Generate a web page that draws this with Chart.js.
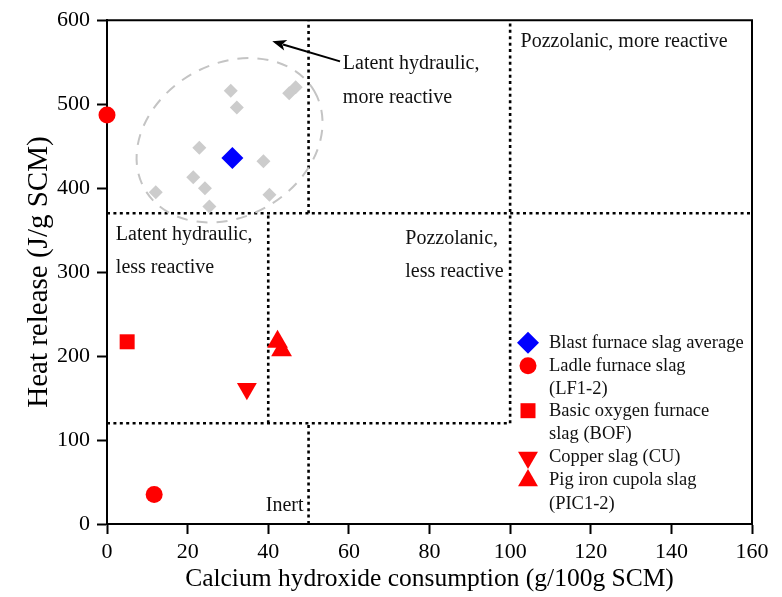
<!DOCTYPE html>
<html>
<head>
<meta charset="utf-8">
<script src="https://cdn.jsdelivr.net/npm/chart.js@4/dist/chart.umd.min.js"></script>
<style>
  html, body { margin: 0; padding: 0; background: #ffffff; }
  #wrap { width: 782px; height: 597px; }
</style>
</head>
<body>
<div id="wrap"><canvas id="chart" width="782" height="597"></canvas></div>
<script>
// Calcium hydroxide consumption (g/100g SCM) vs. heat release (J/g SCM)

// Axis ticks
const xTickValues = [0, 20, 40, 60, 80, 100, 120, 140, 160];
const yTickValues = [0, 100, 200, 300, 400, 500, 600];

// Blast furnace slags (individual samples)
const bfsX = [30.7, 32.2, 46.8, 45.2, 22.9, 38.8, 21.4, 24.3, 12.1, 40.3, 25.4];
const bfsY = [516, 496, 520, 513, 448, 432, 413, 400, 395, 392, 378];
// Blast furnace slag average
const bfsAvgX = [31.1];
const bfsAvgY = [436];
// Ladle furnace slag (LF1-2)
const lfX = [0, 11.7];
const lfY = [487, 35];
// Basic oxygen furnace slag (BOF)
const bofX = [5.0];
const bofY = [217];
// Copper slag (CU)
const cuX = [34.7];
const cuY = [161];
// Pig iron cupola slag (PIC1-2)
const picX = [42.3, 43.3];
const picY = [217, 207];

// Reactivity class limits
const chLimits = [40, 50, 100];     // g/100g SCM
const heatLimits = [120, 370];      // J/g SCM

const pts = (xs, ys) => xs.map((v, i) => ({ x: v, y: ys[i] }));

const SERIF = "'Liberation Serif', 'Times New Roman', serif";

// Dotted borders between the reactivity classes: [x1, y1, x2, y2]
const regionLines = [
  [0, heatLimits[1], 160, heatLimits[1]],
  [chLimits[1], heatLimits[1], chLimits[1], 600],
  [chLimits[2], heatLimits[0], chLimits[2], 600],
  [chLimits[0], heatLimits[0], chLimits[0], heatLimits[1]],
  [0, heatLimits[0], chLimits[2], heatLimits[0]],
  [chLimits[1], 0, chLimits[1], heatLimits[0]]
];

// Class labels: [text, x, y] (data coordinates of the left edge / middle)
const regionLabels = [
  ['Pozzolanic, more reactive', 102.6, 574],
  ['Latent hydraulic,', 58.5, 548],
  ['more reactive', 58.5, 508],
  ['Latent hydraulic,', 2.2, 345],
  ['less reactive', 2.2, 305],
  ['Pozzolanic,', 74.0, 340],
  ['less reactive', 74.0, 301],
  ['Inert', 39.4, 22]
];

const RED = '#ff0000';

function drawMarker(ctx, style, cx, cy, r, rotation) {
  ctx.beginPath();
  if (style === 'circle') {
    ctx.arc(cx, cy, r, 0, Math.PI * 2);
  } else if (style === 'rect') {
    const h = Math.SQRT1_2 * r;
    ctx.rect(cx - h, cy - h, 2 * h, 2 * h);
  } else if (style === 'rectRot') {
    ctx.moveTo(cx - r, cy); ctx.lineTo(cx, cy - r);
    ctx.lineTo(cx + r, cy); ctx.lineTo(cx, cy + r);
  } else if (style === 'triangle') {
    const s = rotation ? -1 : 1;
    ctx.moveTo(cx, cy - s * r);
    ctx.lineTo(cx + 0.866 * r, cy + s * r / 2);
    ctx.lineTo(cx - 0.866 * r, cy + s * r / 2);
  }
  ctx.closePath();
  ctx.fill();
}

const overlay = {
  id: 'overlay',
  beforeDatasetsDraw(chart) {
    const { ctx, scales: { x, y } } = chart;
    ctx.save();
    // class borders
    ctx.strokeStyle = '#000';
    ctx.lineWidth = 2.6;
    ctx.setLineDash([3, 3.4]);
    regionLines.forEach(s => {
      ctx.beginPath();
      ctx.moveTo(x.getPixelForValue(s[0]), y.getPixelForValue(s[1]));
      ctx.lineTo(x.getPixelForValue(s[2]), y.getPixelForValue(s[3]));
      ctx.stroke();
    });
    // envelope around the blast furnace slags
    const unit = x.getPixelForValue(1) - x.getPixelForValue(0);
    ctx.strokeStyle = '#c4c4c4';
    ctx.lineWidth = 2;
    ctx.setLineDash([11, 9]);
    ctx.beginPath();
    ctx.ellipse(x.getPixelForValue(30.4), y.getPixelForValue(457),
                24.3 * unit, 18.9 * unit, -Math.PI / 6, 0, Math.PI * 2);
    ctx.stroke();
    ctx.restore();
  },
  afterDraw(chart) {
    const { ctx, chartArea: a, scales: { x, y } } = chart;
    ctx.save();
    // top and right frame
    ctx.strokeStyle = '#000';
    ctx.lineWidth = 2;
    ctx.beginPath();
    ctx.moveTo(a.left - 1, a.top);
    ctx.lineTo(a.right, a.top);
    ctx.lineTo(a.right, a.bottom + 1);
    ctx.stroke();

    // arrow pointing at the upper left region
    const x0 = x.getPixelForValue(57.8), y0 = y.getPixelForValue(551);
    const x1 = x.getPixelForValue(41.0), y1 = y.getPixelForValue(574.8);
    const ang = Math.atan2(y1 - y0, x1 - x0);
    const hl = 14, hw = 5.5;
    ctx.lineWidth = 2;
    ctx.beginPath();
    ctx.moveTo(x0, y0);
    ctx.lineTo(x1 - Math.cos(ang) * hl * 0.8, y1 - Math.sin(ang) * hl * 0.8);
    ctx.stroke();
    ctx.fillStyle = '#000';
    ctx.beginPath();
    ctx.moveTo(x1, y1);
    ctx.lineTo(x1 - Math.cos(ang) * hl - Math.sin(ang) * hw, y1 - Math.sin(ang) * hl + Math.cos(ang) * hw);
    ctx.lineTo(x1 - Math.cos(ang) * hl * 0.75, y1 - Math.sin(ang) * hl * 0.75);
    ctx.lineTo(x1 - Math.cos(ang) * hl + Math.sin(ang) * hw, y1 - Math.sin(ang) * hl - Math.cos(ang) * hw);
    ctx.closePath();
    ctx.fill();

    // class labels
    ctx.fillStyle = '#111';
    ctx.font = '20px ' + SERIF;
    ctx.textAlign = 'left';
    ctx.textBaseline = 'middle';
    regionLabels.forEach(([t, tx, ty]) => {
      ctx.fillText(t, x.getPixelForValue(tx), y.getPixelForValue(ty));
    });

    // legend
    const lx = a.left + 421, tx = a.left + 442;
    const rows = [
      { style: 'rectRot', color: '#0000ff', r: 11, cy: 342.7, lines: ['Blast furnace slag average'] },
      { style: 'circle', color: RED, r: 8.5, cy: 365.7, lines: ['Ladle furnace slag', '(LF1-2)'] },
      { style: 'rect', color: RED, r: 10.6, cy: 410.7, lines: ['Basic oxygen furnace', 'slag (BOF)'] },
      { style: 'triangle', rot: 180, color: RED, r: 11.5, cy: 457.5, lines: ['Copper slag (CU)'] },
      { style: 'triangle', color: RED, r: 11.5, cy: 480.5, lines: ['Pig iron cupola slag', '(PIC1-2)'] }
    ];
    ctx.font = '18.5px ' + SERIF;
    rows.forEach(row => {
      ctx.fillStyle = row.color;
      drawMarker(ctx, row.style, lx, row.cy, row.r, row.rot);
      ctx.fillStyle = '#111';
      row.lines.forEach((t, i) => ctx.fillText(t, tx, row.cy + i * 23.5));
    });
    ctx.restore();
  }
};

const tickFont = { family: SERIF, size: 22 };

new Chart(document.getElementById('chart'), {
  type: 'scatter',
  data: {
    datasets: [
      { label: 'Blast furnace slags', data: pts(bfsX, bfsY), pointStyle: 'rectRot',
        pointRadius: 7, backgroundColor: '#cccccc', borderWidth: 0, clip: false },
      { label: 'Blast furnace slag average', data: pts(bfsAvgX, bfsAvgY), pointStyle: 'rectRot',
        pointRadius: 11, backgroundColor: '#0000ff', borderWidth: 0, clip: false },
      { label: 'Ladle furnace slag (LF1-2)', data: pts(lfX, lfY), pointStyle: 'circle',
        pointRadius: 8.5, backgroundColor: RED, borderWidth: 0, clip: false },
      { label: 'Basic oxygen furnace slag (BOF)', data: pts(bofX, bofY), pointStyle: 'rect',
        pointRadius: 10.6, backgroundColor: RED, borderWidth: 0, clip: false },
      { label: 'Copper slag (CU)', data: pts(cuX, cuY), pointStyle: 'triangle', rotation: 180,
        pointRadius: 11.5, backgroundColor: RED, borderWidth: 0, clip: false },
      { label: 'Pig iron cupola slag (PIC1-2)', data: pts(picX, picY), pointStyle: 'triangle',
        pointRadius: 12, backgroundColor: RED, borderWidth: 0, clip: false }
    ]
  },
  options: {
    responsive: false,
    animation: false,
    devicePixelRatio: 1,
    layout: { padding: { left: 0, top: 16, right: 30, bottom: 0 } },
    plugins: { legend: { display: false }, tooltip: { enabled: false } },
    scales: {
      x: {
        type: 'linear', min: 0, max: 160,
        afterBuildTicks: s => { s.ticks = xTickValues.map(v => ({ value: v })); },
        afterFit: s => { s.height = 73; },
        ticks: { font: tickFont, color: '#000', padding: 5, maxRotation: 0 },
        grid: { drawOnChartArea: false, drawTicks: true, tickLength: 10, color: '#000', tickWidth: 2 },
        border: { display: true, color: '#000', width: 2 },
        title: { display: true, text: 'Calcium hydroxide consumption (g/100g SCM)',
                 font: { family: SERIF, size: 25.5 }, color: '#000', padding: { top: 0, bottom: 2 } }
      },
      y: {
        type: 'linear', min: 0, max: 600,
        afterBuildTicks: s => { s.ticks = yTickValues.map(v => ({ value: v })); },
        afterFit: s => { s.width = 107; },
        ticks: { font: tickFont, color: '#000', padding: 7 },
        grid: { drawOnChartArea: false, drawTicks: true, tickLength: 10, color: '#000', tickWidth: 2 },
        border: { display: true, color: '#000', width: 2 },
        title: { display: true, text: 'Heat release (J/g SCM)',
                 font: { family: SERIF, size: 29 }, color: '#000', padding: { top: 22, bottom: 0 } }
      }
    }
  },
  plugins: [overlay]
});
</script>
</body>
</html>
